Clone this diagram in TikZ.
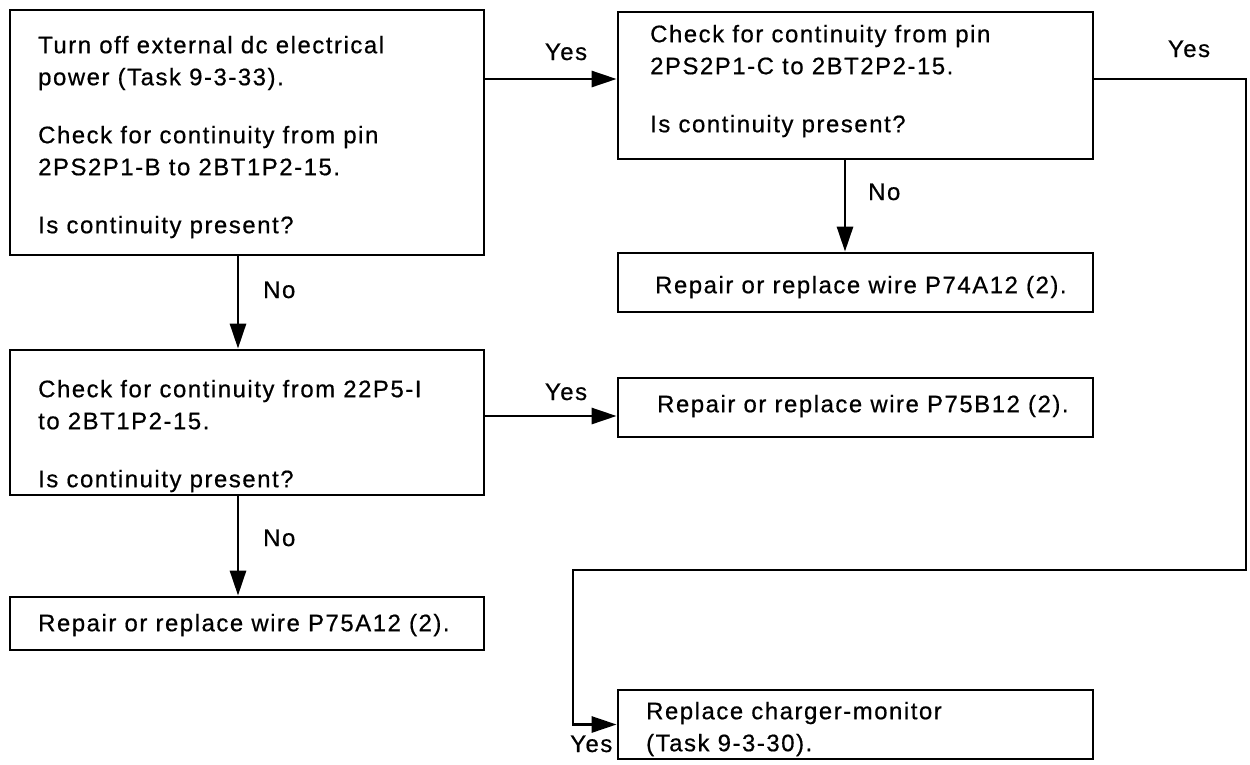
\documentclass[tikz,border=0pt]{standalone}
\usepackage{fontspec}
\setmainfont{Liberation Sans}[LetterSpace=6.5,FakeBold=0.6]
\usetikzlibrary{arrows.meta,calc}
\tikzset{
  box/.style={draw=black, line width=2.8pt, inner sep=0pt, rectangle},
  txt/.style={anchor=north west, inner sep=0pt, align=left, font=\fontsize{23.9}{32}\selectfont},
  lbl/.style={inner sep=0pt, font=\fontsize{23.9}{32}\selectfont},
  arr/.style={line width=2.8pt, -{Triangle[length=25pt,width=16pt]}},
}
\begin{document}
\begin{tikzpicture}[x=1pt,y=-1pt]
\fill[white] (0,0) rectangle (1250,764);
\useasboundingbox (0,0) rectangle (1250,764);

% boxes
\node[box, minimum width=474pt, minimum height=245pt] (A) at (247,132.5) {};
\node[box, minimum width=475pt, minimum height=147pt] (B) at (855.5,85.5) {};
\node[box, minimum width=475pt, minimum height=59pt]  (C) at (855.5,282.5) {};
\node[box, minimum width=474pt, minimum height=145pt] (D) at (247,422.5) {};
\node[box, minimum width=475pt, minimum height=59pt]  (E) at (855.5,407.5) {};
\node[box, minimum width=474pt, minimum height=53pt]  (F) at (247,623.5) {};
\node[box, minimum width=475pt, minimum height=69pt]  (G) at (855.5,724.5) {};

% texts
\node[txt] (At) at (38,35.7) {Turn off external dc electrical\\power (Task 9-3-33).\\[26pt]Check for continuity from pin\\2PS2P1-B to 2BT1P2-15.\\[26pt]Is continuity present?};
\node[txt] (Bt) at (650,24.7) {Check for continuity from pin\\2PS2P1-C to 2BT2P2-15.\\[26pt]Is continuity present?};
\node[txt] (Ct) at (655,275.7) {Repair or replace wire P74A12 (2).};
\node[txt] (Dt) at (38,379.7) {Check for continuity from 22P5-I\\to 2BT1P2-15.\\[26pt]Is continuity present?};
\node[txt] (Et) at (657,394.7) {Repair or replace wire P75B12 (2).};
\node[txt] (Ft) at (38,613.7) {Repair or replace wire P75A12 (2).};
\node[txt] (Gt) at (646,701.7) {Replace charger-monitor\\(Task 9-3-30).};

% labels
\node[lbl, anchor=base] (y1) at (566,60) {Yes};
\node[lbl, anchor=base] (y2) at (1189,57) {Yes};
\node[lbl, anchor=base west] (n1) at (868,200) {No};
\node[lbl, anchor=base west] (n2) at (263,298) {No};
\node[lbl, anchor=base] (y3) at (566,400) {Yes};
\node[lbl, anchor=base west] (n3) at (263,546) {No};
\node[lbl, anchor=base west] (y4) at (570,752) {Yes};

% helper coordinates
\coordinate (cx) at (238,0);
\coordinate (bx) at (845,0);
\coordinate (yAB) at (0,79);
\coordinate (yDE) at (0,416);
\coordinate (rt) at (1246,79);
\coordinate (lb) at (573,570);

% connectors
\draw[arr] (A.east |- yAB) -- (B.west |- yAB);
\draw[arr] (B.east |- yAB) -- (rt) |- (lb) |- (G.west);
\draw[arr] (A.south -| cx) -- (D.north -| cx);
\draw[arr] (B.south -| bx) -- (C.north -| bx);
\draw[arr] (D.east |- yDE) -- (E.west |- yDE);
\draw[arr] (D.south -| cx) -- (F.north -| cx);
\end{tikzpicture}
\end{document}
